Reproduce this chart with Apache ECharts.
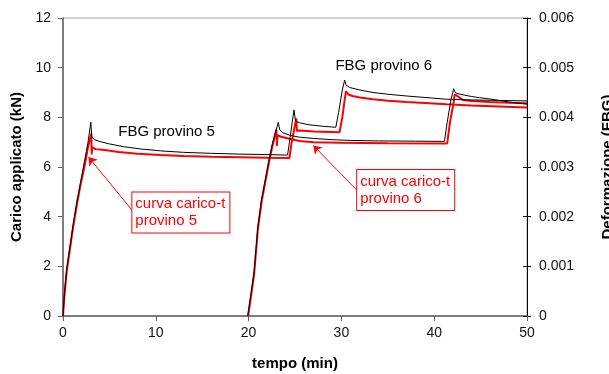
<!DOCTYPE html>
<html>
<head>
<meta charset="utf-8">
<script src="https://cdn.jsdelivr.net/npm/echarts@6/dist/echarts.min.js"></script>
<style>
  html, body { margin: 0; padding: 0; background: #fff; }
  #chart { width: 609px; height: 374px; }
</style>
</head>
<body>
<div id="chart"></div>
<script>
// provino 5 - FBG (deformazione)
const p5FbgT = [0, 0.15, 0.4, 0.75, 1.1, 1.5, 1.9, 2.3, 2.7, 3.0, 3.1, 3.4, 4.0, 5.0, 6.5, 8.5, 10.5, 13, 16, 19, 22, 24.2,
  24.4, 24.7, 24.9, 25.05, 25.5, 26.5, 28, 29.4, 29.7, 30.1, 30.35, 30.5, 30.9, 32, 33.4, 35, 37, 39, 41.3, 44, 47, 50];
const p5FbgV = [0, 0.00045, 0.00095, 0.0014, 0.00185, 0.0023, 0.0027, 0.0031, 0.0035, 0.0039, 0.0036, 0.00355, 0.00351, 0.003465, 0.00341, 0.00336, 0.003325, 0.003295, 0.003275, 0.00326, 0.00325, 0.00324,
  0.0035, 0.0039, 0.00415, 0.003925, 0.00389, 0.00385, 0.00382, 0.0038, 0.0041, 0.00455, 0.00475, 0.00465, 0.0046, 0.00455, 0.0045, 0.004465, 0.00443, 0.0044, 0.004365, 0.00435, 0.00434, 0.00433];

// provino 5 - curva carico-t (kN)
const p5LoadT = [0, 0.15, 0.4, 0.75, 1.1, 1.5, 1.9, 2.3, 2.7, 3.05, 3.1, 3.13, 3.5, 4.5, 6, 8, 10.5, 13, 16, 19, 22, 24.4,
  24.6, 24.9, 25.15, 25.2, 25.25, 25.5, 27, 29.8, 30.1, 30.35, 30.5, 30.75, 31.2, 32, 33.4, 35, 37, 39, 41.3, 44, 47, 50];
const p5LoadV = [0, 0.8, 1.8, 2.7, 3.6, 4.5, 5.3, 6.0, 6.8, 7.35, 6.5, 6.8, 6.72, 6.68, 6.6, 6.53, 6.48, 6.44, 6.41, 6.39, 6.37, 6.36,
  6.9, 7.5, 7.96, 7.45, 7.5, 7.47, 7.43, 7.4, 8.0, 8.7, 9.05, 8.92, 8.86, 8.8, 8.73, 8.67, 8.62, 8.58, 8.53, 8.48, 8.44, 8.4];

// provino 6 - FBG (deformazione)
const p6FbgT = [19.9, 20.3, 20.6, 21.0, 21.4, 21.8, 22.2, 22.6, 22.9, 23.2, 23.35, 23.7, 24.5, 25.5, 27, 29, 31, 34, 38, 41.1,
  41.4, 41.8, 42.1, 42.3, 42.8, 44, 44.9, 46, 48, 50];
const p6FbgV = [0, 0.0005, 0.0009, 0.0018, 0.00235, 0.00275, 0.00315, 0.0035, 0.0037, 0.0039, 0.00375, 0.00369, 0.003635, 0.0036, 0.003575, 0.00355, 0.003535, 0.003525, 0.00352, 0.003515,
  0.0039, 0.00435, 0.004575, 0.00449, 0.004465, 0.00442, 0.004395, 0.00437, 0.00431, 0.004265];

// provino 6 - curva carico-t (kN)
const p6LoadT = [19.95, 20.3, 20.6, 21.0, 21.4, 21.8, 22.2, 22.6, 23.0, 23.05, 23.1, 23.5, 24.5, 25.5, 27, 30, 35, 41.4,
  41.7, 42.1, 42.2, 42.4, 43.1, 44, 46, 48, 50];
const p6LoadV = [0, 0.9, 1.7, 3.5, 4.6, 5.4, 6.2, 6.9, 7.5, 6.85, 7.28, 7.22, 7.13, 7.05, 7.0, 6.98, 6.96, 6.95,
  7.8, 8.6, 8.93, 8.85, 8.7, 8.66, 8.62, 8.59, 8.57];

const xTicks = [0, 10, 20, 30, 40, 50];
const loadTicks = [0, 2, 4, 6, 8, 10, 12];
const defTicks = [0, 0.001, 0.002, 0.003, 0.004, 0.005, 0.006];

const pairs = (t, v) => t.map((x, i) => [x, v[i]]);

const RED = "#ff0000";
const FONT = "Liberation Sans";

const boxLabel = {
  show: true,
  position: "right",
  distance: 0,
  color: RED,
  fontFamily: FONT,
  fontSize: 15,
  lineHeight: 17,
  borderColor: RED,
  borderWidth: 1,
  padding: [3, 4, 3, 3],
  backgroundColor: "#fff",
};
const plainLabel = {
  show: true,
  position: "right",
  distance: 0,
  color: "#000",
  fontFamily: FONT,
  fontSize: 15,
};
const arrowLine = (from, to) => ({
  silent: true,
  symbol: ["none", "arrow"],
  symbolSize: 8,
  lineStyle: { color: RED, width: 1, type: "solid" },
  itemStyle: { color: RED },
  label: { show: false },
  data: [[{ coord: from }, { coord: to }]],
});

const chart = echarts.init(document.getElementById("chart"));
const rightAxisBase = {
  type: "value",
  position: "right",
  min: 0,
  max: 0.006,
  interval: 0.001,
  splitLine: { show: false },
};

chart.setOption({
  animation: false,
  grid: {
    left: 63,
    right: 82,
    top: 18,
    bottom: 58,
    outerBoundsMode: "none",
    containLabel: false,
    show: true,
    borderColor: "#a6a6a6",
    borderWidth: 1,
  },
  xAxis: {
    type: "value",
    min: 0,
    max: 50,
    interval: 10,
    name: "tempo (min)",
    nameLocation: "middle",
    nameGap: 40,
    nameTextStyle: { fontFamily: FONT, fontSize: 15, fontWeight: "bold", color: "#000" },
    axisLine: { onZero: false, lineStyle: { color: "#606060", width: 1.5 } },
    axisTick: { length: 5, lineStyle: { color: "#606060" } },
    axisLabel: {
      margin: 10,
      fontFamily: FONT,
      fontSize: 14,
      color: "#111",
      formatter: (v) => (xTicks.includes(v) ? String(v) : ""),
    },
    splitLine: { show: false },
  },
  yAxis: [
    {
      type: "value",
      position: "left",
      min: 0,
      max: 12,
      interval: 2,
      name: "Carico applicato (kN)",
      nameLocation: "middle",
      nameRotate: 90,
      nameGap: 37,
      nameTextStyle: { fontFamily: FONT, fontSize: 15, fontWeight: "bold", color: "#000" },
      axisLine: { show: true, lineStyle: { color: "#606060", width: 1.5 } },
      axisTick: { show: true, length: 5, lineStyle: { color: "#606060" } },
      axisLabel: {
        margin: 12,
        fontFamily: FONT,
        fontSize: 14,
        color: "#111",
        formatter: (v) => (loadTicks.includes(v) ? String(v) : ""),
      },
      splitLine: { show: false },
    },
    Object.assign({}, rightAxisBase, {
      name: "Deformazione (FBG)",
      nameLocation: "middle",
      nameRotate: 90,
      nameGap: 73,
      nameTextStyle: { fontFamily: FONT, fontSize: 15, fontWeight: "bold", color: "#000" },
      axisLine: { show: true, lineStyle: { color: "#000", width: 1 } },
      axisTick: { show: true, length: 4, lineStyle: { color: "#000" } },
      axisLabel: {
        margin: 12,
        fontFamily: FONT,
        fontSize: 14,
        color: "#111",
        formatter: (v) => {
          const k = defTicks.findIndex((d) => Math.abs(d - v) < 1e-9);
          if (k < 0) return "";
          return k === 0 ? "0" : defTicks[k].toFixed(3);
        },
      },
    }),
    Object.assign({}, rightAxisBase, {
      axisLine: { show: false },
      axisTick: { show: true, inside: true, length: 4, lineStyle: { color: "#000" } },
      axisLabel: { show: false },
    }),
  ],
  series: [
    {
      name: "FBG provino 5",
      type: "line",
      yAxisIndex: 1,
      data: pairs(p5FbgT, p5FbgV),
      showSymbol: false,
      lineStyle: { color: "#000", width: 1 },
      z: 3,
    },
    {
      name: "FBG provino 6",
      type: "line",
      yAxisIndex: 1,
      data: pairs(p6FbgT, p6FbgV),
      showSymbol: false,
      lineStyle: { color: "#000", width: 1 },
      z: 3,
    },
    {
      name: "curva carico-t provino 5",
      type: "line",
      yAxisIndex: 0,
      data: pairs(p5LoadT, p5LoadV),
      showSymbol: false,
      lineStyle: { color: RED, width: 2 },
      z: 2,
      markLine: arrowLine([7.42, 4.27], [2.75, 6.4]),
      markPoint: {
        silent: true,
        symbol: "circle",
        symbolSize: 1,
        itemStyle: { color: "rgba(0,0,0,0)" },
        data: [
          { coord: [7.42, 4.17], label: Object.assign({}, boxLabel, { formatter: "curva carico-t\nprovino 5" }) },
          { coord: [5.9, 7.43], label: Object.assign({}, plainLabel, { formatter: "FBG provino 5" }) },
        ],
      },
    },
    {
      name: "curva carico-t provino 6",
      type: "line",
      yAxisIndex: 0,
      data: pairs(p6LoadT, p6LoadV),
      showSymbol: false,
      lineStyle: { color: RED, width: 2 },
      z: 2,
      markLine: arrowLine([31.65, 5.07], [26.97, 6.87]),
      markPoint: {
        silent: true,
        symbol: "circle",
        symbolSize: 1,
        itemStyle: { color: "rgba(0,0,0,0)" },
        data: [
          { coord: [31.65, 5.07], label: Object.assign({}, boxLabel, { formatter: "curva carico-t\nprovino 6" }) },
          { coord: [29.3, 10.07], label: Object.assign({}, plainLabel, { formatter: "FBG provino 6" }) },
        ],
      },
    },
  ],
});
</script>
</body>
</html>
